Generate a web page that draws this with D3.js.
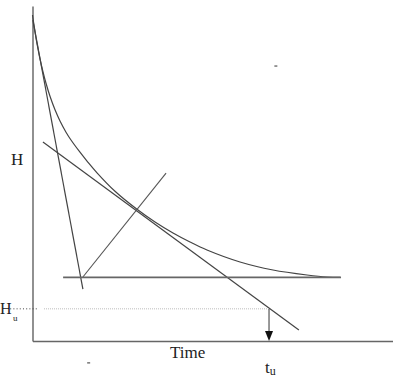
<!DOCTYPE html>
<html>
<head>
<meta charset="utf-8">
<script src="https://cdn.jsdelivr.net/npm/d3@7"></script>
<style>
  body { margin: 0; background: #fff; }
  text { font-family: "Liberation Serif", "DejaVu Serif", serif; fill: #222; }
</style>
</head>
<body>
<svg width="400" height="379"></svg>
<script>
// values, in arbitrary units (time 0-100, H 0-100)
const curveT = [0, 0.42, 0.97, 1.53, 2.08, 2.92, 3.75, 4.86, 6.25, 7.64, 9.31, 10.69, 13.19,
                15.42, 17.92, 22.92, 29.03, 34.03, 39.03, 43.75, 48.47, 57.64, 66.81, 76.25, 81.81, 85.42];
const curveH = [97.31, 94.21, 90.51, 87.19, 84.24, 80.33, 76.93, 73.04, 69.01, 65.67, 62.33, 60.0, 56.36,
                53.34, 50.21, 44.69, 39.31, 35.52, 32.24, 29.55, 27.16, 23.58, 21.19, 19.7, 19.1, 19.01];

const steepT = [0.1, 14.0],   steepH = [95.8, 15.5];
const tangentT = [2.9, 74.0], tangentH = [59.4, 3.3];
const normalT = [14.0, 37.1], normalH = [19.1, 50.1];
const floorT = [8.5, 85.7],   floorH = 19.0;

const Hu = 9.6, tu = 65.7;
const huStartT = 3.2;
const huTickT = [-6.2, 1.5];

const specks = [[67.6, 82.0], [15.6, -6.6]];

const svg = d3.select("svg");

const x = d3.scaleLinear().domain([0, 100]).range([32.5, 392.5]);
const y = d3.scaleLinear().domain([0, 100]).range([341, 6]);

// axes (plain lines, no ticks)
svg.append("g")
   .attr("transform", `translate(${x(0)},0)`)
   .call(d3.axisLeft(y).tickValues([]).tickSizeOuter(0))
   .select(".domain").attr("stroke", "#555").attr("stroke-width", 1.3);

svg.append("g")
   .attr("transform", `translate(0,${y(0)})`)
   .call(d3.axisBottom(x).tickValues([]).tickSizeOuter(0))
   .select(".domain").attr("stroke", "#666").attr("stroke-width", 1.6);

const line = d3.line().x(d => x(d[0])).y(d => y(d[1]));

// decay curve
svg.append("path")
   .datum(curveT.map((t, i) => [t, curveH[i]]))
   .attr("fill", "none")
   .attr("stroke", "#444")
   .attr("stroke-width", 1.2)
   .attr("d", line.curve(d3.curveCatmullRom.alpha(0.5)));

line.curve(d3.curveLinear);

const seg = (ts, hs, color, w) => svg.append("path")
   .datum([[ts[0], hs[0]], [ts[1], hs[1]]])
   .attr("fill", "none")
   .attr("stroke", color)
   .attr("stroke-width", w)
   .attr("d", line);

seg(steepT, steepH, "#444", 1.2);
seg(tangentT, tangentH, "#444", 1.2);
seg(normalT, normalH, "#555", 1.1);
seg(floorT, [floorH, floorH], "#666", 1.6);

// Hu dotted lines
seg(huTickT, [Hu, Hu], "#444", 1).attr("stroke-dasharray", "1,2.2");
seg([huStartT, tu], [Hu, Hu], "#bbb", 1).attr("stroke-dasharray", "1,1");

// arrow down to tu
svg.append("line")
   .attr("x1", x(tu)).attr("x2", x(tu))
   .attr("y1", y(Hu)).attr("y2", y(0) - 8)
   .attr("stroke", "#333").attr("stroke-width", 1);

svg.append("path")
   .attr("d", `M${x(tu) - 4},${y(0) - 10}L${x(tu) + 4},${y(0) - 10}L${x(tu)},${y(0)}Z`)
   .attr("fill", "#111");

// labels
svg.append("text").attr("x", 11).attr("y", 165).attr("font-size", 17).text("H");

const hu = svg.append("text").attr("x", 0).attr("y", 314).attr("font-size", 16);
hu.append("tspan").text("H");
hu.append("tspan").attr("x", 13).attr("y", 321).attr("font-size", 9).text("u");

svg.append("text").attr("x", 170).attr("y", 358).attr("font-size", 17).text("Time");

const tl = svg.append("text").attr("x", 265).attr("y", 373).attr("font-size", 17);
tl.append("tspan").text("t");
tl.append("tspan").attr("y", 375).attr("font-size", 12).text("u");

// scan specks
svg.selectAll(".speck").data(specks).enter()
   .append("rect")
   .attr("class", "speck")
   .attr("x", d => x(d[0]) - 1.5).attr("y", d => y(d[1]) - 1)
   .attr("width", 3).attr("height", 1.5)
   .attr("fill", "#777");
</script>
</body>
</html>
